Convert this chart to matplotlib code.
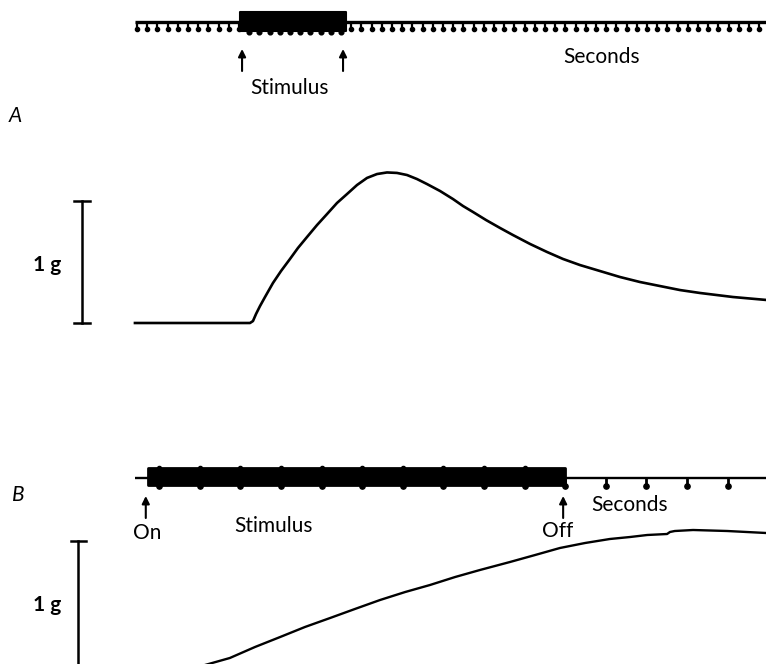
import numpy as np
import matplotlib
matplotlib.use("Agg")
import matplotlib.pyplot as plt
from matplotlib.transforms import blended_transform_factory
from matplotlib.patches import Rectangle

plt.rcParams["font.family"] = ["Lato", "DejaVu Sans"]

# ---------------- data ----------------
# Panel A (slow time base): time in seconds, tension in grams
a_trace_t = [-0.20, 11.08, 11.37, 11.67, 12.06, 12.55, 13.33, 14.12, 15.00,
             15.78, 16.67, 17.65, 18.63, 19.61, 20.59, 21.57, 22.55, 23.53,
             24.51, 25.49, 26.47, 27.45, 28.43, 29.71, 30.98, 31.96, 32.94,
             34.22, 35.59, 36.86, 38.53, 40.20, 41.76, 43.43, 45.39, 47.35,
             49.31, 51.27, 53.24, 55.20, 58.43, 61.67]
a_trace_g = [0.000, 0.000, 0.016, 0.074, 0.139, 0.213, 0.328, 0.426, 0.525,
             0.615, 0.705, 0.803, 0.893, 0.984, 1.057, 1.131, 1.189, 1.221,
             1.234, 1.230, 1.213, 1.180, 1.139, 1.082, 1.016, 0.959, 0.910,
             0.844, 0.779, 0.721, 0.648, 0.582, 0.525, 0.475, 0.426, 0.377,
             0.336, 0.303, 0.270, 0.246, 0.213, 0.189]
a_marks_s = list(range(0, 62))          # one-second time marks
a_stim_on, a_stim_off = 10.1, 20.5      # stimulus period (s)
a_arrows_s = [10.3, 20.2]

# Panel B (fast time base)
b_trace_t = [0.94, 1.43, 2.04, 2.66, 3.28, 3.89, 4.51, 5.12, 5.74, 6.36,
             6.97, 7.59, 8.20, 8.94, 9.56, 10.17, 10.79, 11.40, 11.90, 12.32,
             12.81, 12.88, 13.00, 13.45, 14.29, 15.25]
b_trace_g = [-0.064, 0.008, 0.064, 0.152, 0.232, 0.312, 0.384, 0.456, 0.528,
             0.592, 0.648, 0.712, 0.768, 0.832, 0.888, 0.944, 0.984, 1.016,
             1.032, 1.048, 1.056, 1.072, 1.080, 1.088, 1.080, 1.064]
b_marks_s = [0.3, 1.3, 2.3, 3.3, 4.3, 5.3, 6.3, 7.3, 8.3, 9.3, 10.3,
             11.3, 12.3, 13.3, 14.3]
b_stim_on, b_stim_off = 0.02, 10.3
b_arrows_s = [-0.03, 10.25]
b_arrow_labels = ["On", "Off"]

scale_g = 1.0

# ---------------- layout ----------------
W, H = 766, 664
fig = plt.figure(figsize=(W / 100, H / 100), dpi=100)
fig.patch.set_facecolor("white")


def fx(px):
    return px / W


def fy(py):
    return 1 - py / H


def make_axes(x0_px, px_per_s, base_px, px_per_g):
    ax = fig.add_axes([0, 0, 1, 1])
    ax.set_xlim(-x0_px / px_per_s, (W - x0_px) / px_per_s)
    ax.set_ylim((base_px - H) / px_per_g, base_px / px_per_g)
    ax.axis("off")
    ax.patch.set_alpha(0)
    return ax


axA = make_axes(137, 10.2, 323, 122)
axB = make_axes(147, 40.6, 666, 125)

K = "black"
fs = 15

# ---------- Panel A ----------
tA = blended_transform_factory(axA.transData, fig.transFigure)
axA.plot([-0.2, 61.7], [fy(22), fy(22)], transform=tA, color=K, lw=2.4,
         solid_capstyle="butt")
axA.vlines(a_marks_s, fy(29), fy(22), transform=tA, color=K, lw=1.6)
axA.plot(a_marks_s, [fy(28.5)] * len(a_marks_s), "o", transform=tA, color=K,
         ms=3.0)
axA.add_patch(Rectangle((a_stim_on, fy(31)), a_stim_off - a_stim_on,
                        fy(12) - fy(31), transform=tA, facecolor=K,
                        edgecolor=K, lw=1.5, joinstyle="round"))
in_stim = [m for m in a_marks_s if a_stim_on < m < a_stim_off]
axA.plot(in_stim, [fy(32)] * len(in_stim), "o", transform=tA, color=K, ms=3.4)
for t in a_arrows_s:
    axA.annotate("", xy=(t, fy(49)), xycoords=tA, xytext=(t, fy(71)),
                 textcoords=tA,
                 arrowprops=dict(arrowstyle="-|>", color=K, lw=1.5,
                                 mutation_scale=11, shrinkA=0, shrinkB=0))
axA.plot(a_trace_t, a_trace_g, color=K, lw=1.9, solid_joinstyle="round")

sA = blended_transform_factory(fig.transFigure, axA.transData)
axA.plot([fx(82), fx(82)], [0, scale_g], transform=sA, color=K, lw=1.8)
for g in (0, scale_g):
    axA.plot([fx(74), fx(90)], [g, g], transform=sA, color=K, lw=1.8)

fig.text(fx(290), fy(88), "Stimulus", ha="center", va="center", fontsize=fs)
fig.text(fx(602), fy(57), "Seconds", ha="center", va="center", fontsize=fs)
fig.text(fx(9), fy(116), "A", ha="left", va="center", fontsize=fs,
         style="italic")
fig.text(fx(47), fy(265), "1 g", ha="center", va="center", fontsize=fs,
         fontweight="bold")

# ---------- Panel B ----------
tB = blended_transform_factory(axB.transData, fig.transFigure)
axB.plot([-0.3, 15.25], [fy(478), fy(478)], transform=tB, color=K, lw=1.7,
         solid_capstyle="butt")
axB.add_patch(Rectangle((b_stim_on, fy(485)), b_stim_off - b_stim_on,
                        fy(468) - fy(485), transform=tB, facecolor=K,
                        edgecolor=K, lw=2, joinstyle="round"))
axB.vlines(b_marks_s, fy(487), fy(478), transform=tB, color=K, lw=2)
axB.plot(b_marks_s, [fy(486)] * len(b_marks_s), "o", transform=tB, color=K,
         ms=3.8)
in_stim_b = [m for m in b_marks_s if b_stim_on < m < b_stim_off]
axB.plot(in_stim_b, [fy(468)] * len(in_stim_b), "o", transform=tB, color=K,
         ms=3)
for t in b_arrows_s:
    axB.annotate("", xy=(t, fy(496)), xycoords=tB, xytext=(t, fy(518)),
                 textcoords=tB,
                 arrowprops=dict(arrowstyle="-|>", color=K, lw=1.5,
                                 mutation_scale=11, shrinkA=0, shrinkB=0))
axB.plot(b_trace_t, b_trace_g, color=K, lw=1.7, solid_joinstyle="round")

sB = blended_transform_factory(fig.transFigure, axB.transData)
axB.plot([fx(78), fx(78)], [0, scale_g], transform=sB, color=K, lw=1.8)
for g in (0, scale_g):
    axB.plot([fx(71), fx(86)], [g, g], transform=sB, color=K, lw=1.8)

fig.text(fx(147), fy(533), b_arrow_labels[0], ha="center", va="center",
         fontsize=fs)
fig.text(fx(274), fy(526), "Stimulus", ha="center", va="center", fontsize=fs)
fig.text(fx(558), fy(531), b_arrow_labels[1], ha="center", va="center",
         fontsize=fs)
fig.text(fx(630), fy(505), "Seconds", ha="center", va="center", fontsize=fs)
fig.text(fx(12), fy(495), "B", ha="left", va="center", fontsize=fs,
         style="italic")
fig.text(fx(47), fy(605), "1 g", ha="center", va="center", fontsize=fs,
         fontweight="bold")

fig.savefig("out.png", dpi=100, facecolor="white")
